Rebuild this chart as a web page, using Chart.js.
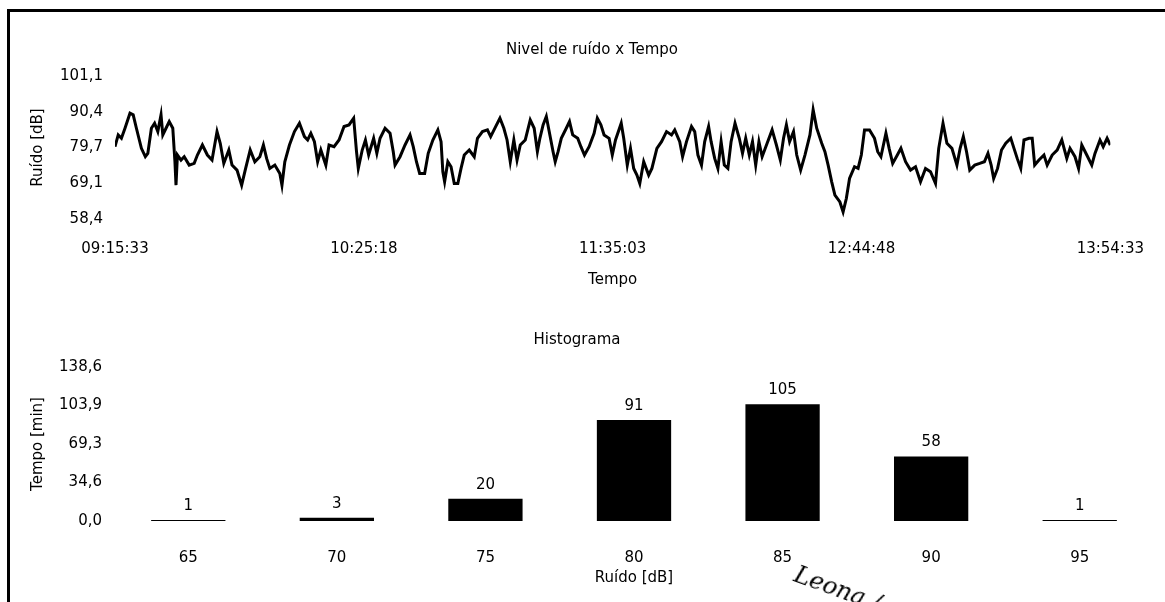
<!DOCTYPE html>
<html lang="pt-BR">
<head>
<meta charset="utf-8">
<title>Nível de ruído x Tempo</title>
<script src="https://cdn.jsdelivr.net/npm/chart.js@4.4.1/dist/chart.umd.min.js"></script>
<style>
  html, body { margin: 0; padding: 0; background: #fff; }
  #pagina { position: relative; width: 1165px; height: 602px; overflow: hidden; }
  #moldura { position: absolute; left: 7px; top: 9px; width: 1170px; height: 600px;
             border-top: 3px solid #000; border-left: 3px solid #000; }
  #graficoRuido { position: absolute; left: 0; top: 0; }
  #graficoHist { position: absolute; left: 0; top: 300px; }
  #assinatura { position: absolute; left: 800px; top: 560px; font: italic 24px "DejaVu Serif", serif;
                color: #000; transform: rotate(20deg); transform-origin: left top; }
</style>
</head>
<body>
<div id="pagina">
  <div id="moldura"></div>
  <canvas id="graficoRuido" width="1165" height="300"></canvas>
  <canvas id="graficoHist" width="1165" height="302"></canvas>
  <div id="assinatura">Leona /</div>
</div>
<script>
// Nível de ruído ao longo do tempo (minutos desde 09:15:33)
const tempoMin = [
  0, 0.9, 1.8, 2.8, 4.2, 5.1, 6.0, 7.4, 8.5, 9.2, 10.2, 11.1, 12.0, 12.9, 13.4, 14.3, 15.2, 16.2, 16.8, 17.1,
  17.5, 18.5, 19.4, 20.8, 22.2, 23.1, 24.5, 25.9, 27.2, 28.6, 29.5, 30.5, 31.9, 32.8, 34.2, 35.5, 36.5, 37.9,
  39.2, 40.6, 41.6, 42.5, 43.4, 44.8, 46.2, 46.8, 47.6, 48.9, 50.3, 51.7, 53.1, 54.0, 54.9, 55.9, 56.8, 57.7,
  59.1, 60.0, 61.4, 62.8, 64.2, 65.6, 66.9, 67.7, 68.2, 69.3, 70.2, 71.1, 72.5, 73.4, 74.3, 75.7, 77.1, 78.0,
  78.5, 79.9, 81.3, 82.7, 83.6, 84.5, 85.4, 86.8, 87.8, 89.1, 90.5, 91.4, 91.9, 92.4, 93.3, 94.2, 95.1, 96.1,
  97.0, 97.9, 99.3, 100.7, 101.6, 103.0, 104.4, 105.3, 106.7, 107.9, 109.0, 109.9, 110.8, 111.8, 112.7, 113.6,
  115.0, 116.4, 117.5,
  118.4, 119.1, 120.0, 120.9, 121.9, 122.8, 123.4, 124.2, 125.1, 126.5, 127.4, 128.3, 129.7, 130.6, 131.6,
  132.9, 134.3, 135.2, 136.2, 137.1, 138.5, 139.4, 140.3, 141.9, 142.6, 143.6, 144.5, 145.4, 146.3, 147.1,
  148.2, 149.6, 150.5, 151.9, 153.2, 154.6, 156.0, 156.9, 158.3,
  159.1, 160.2, 161.6, 162.5, 163.4, 164.4, 165.3, 166.4, 167.1, 168.1, 169.0, 169.9, 170.8, 171.8, 172.7,
  173.8, 175.0, 175.9, 176.8, 177.8, 178.7, 179.6, 180.5, 181.4, 182.8, 184.2, 185.4, 186.5, 187.4, 188.2,
  189.1, 190.2, 191.1, 192.2, 193.4, 194.8, 195.7, 196.7, 198.1,
  199.0, 199.9, 200.9, 201.8, 203.2, 204.1, 205.0, 205.9, 207.3, 208.3, 209.2, 210.1, 211.5, 212.9, 213.8,
  214.7, 216.1, 217.0, 218.0, 219.3, 220.3, 221.6, 223.0, 224.4, 225.8, 227.2, 228.6, 230.0, 230.9, 232.1,
  233.2, 234.6, 236.0, 236.9, 237.8, 238.7,
  239.6, 241.0, 242.4, 243.7, 244.7, 245.6, 246.3, 247.4, 248.5, 249.7, 251.1, 252.0, 252.9, 253.9, 254.8,
  256.2, 257.1, 257.8, 259.0, 260.4, 261.3, 262.7, 264.1, 265.4, 266.8, 267.7, 269.1, 270.1, 271.0, 272.4,
  273.8, 274.7, 276.1, 277.0, 278.1, 279.0
];
const ruidoDb = [
  80.0, 83.5, 82.5, 85.5, 90.0, 89.5, 85.5, 79.5, 77.0, 78.0, 85.5, 87.0, 84.5, 89.5, 83.5, 85.5, 87.5, 85.5, 75.5, 68.5,
  77.5, 76.0, 77.0, 74.5, 75.0, 77.5, 80.5, 77.5, 76.0, 84.5, 81.0, 75.0, 79.0, 74.5, 73.0, 68.5, 73.0, 79.0,
  75.5, 77.0, 80.5, 76.5, 73.5, 74.5, 72.0, 68.5, 75.5, 80.5, 84.5, 87.0, 83.0, 82.0, 84.0, 81.5, 75.5, 79.0,
  74.5, 80.5, 80.0, 82.0, 86.0, 86.5, 88.5, 78.5, 73.5, 79.0, 82.0, 77.5, 82.5, 78.0, 82.5, 85.5, 84.0, 78.5,
  74.5, 77.0, 80.5, 83.5, 80.0, 75.5, 72.0, 72.0, 78.0, 82.0, 85.0, 81.5, 72.5, 69.5, 75.5, 74.0, 69.0, 69.0,
  73.5, 77.5, 79.0, 77.0, 82.5, 84.5, 85.0, 83.0, 86.0, 88.5, 85.5, 82.0, 75.5, 82.0, 76.0, 80.5,
  82.0, 88.0, 85.5,
  78.5, 82.5, 86.5, 89.0, 83.5, 78.5, 75.5, 78.5, 82.5, 85.5, 87.5, 83.5, 82.5, 80.0, 77.5,
  80.0, 84.0, 88.5, 86.5, 83.5, 82.5, 77.5, 82.0, 87.0, 82.5, 74.5, 79.5, 73.5, 71.5, 69.0,
  75.5, 71.5, 73.5, 79.5, 81.5, 84.5, 83.5, 85.0, 81.5,
  77.0, 81.5, 86.0, 84.5, 77.5, 74.5, 81.5, 86.0, 81.5, 76.5, 73.5, 81.5, 74.5, 73.5, 81.5,
  87.0, 82.5, 78.0, 82.5, 77.5, 81.5, 74.5, 81.5, 77.0, 81.0, 85.0, 80.5, 76.0, 82.5, 86.5,
  81.5, 84.5, 77.5, 73.0, 77.5, 83.5, 91.0, 85.5, 81.0,
  78.5, 74.5, 69.5, 65.5, 63.5, 60.5, 64.5, 70.5, 74.0, 73.5, 77.5, 85.0, 85.0, 82.5, 78.5,
  77.0, 84.0, 79.5, 75.0, 77.5, 79.5, 75.5, 73.0, 74.0, 69.5, 73.5, 72.5, 69.0, 79.5, 87.0,
  81.0, 79.5, 74.5, 79.5, 83.0, 78.5,
  73.0, 74.5, 75.0, 75.5, 78.0, 74.5, 70.5, 73.5, 79.0, 81.0, 82.5, 79.5, 76.5, 73.5, 82.0,
  82.5, 82.5, 74.5, 76.0, 77.5, 74.5, 77.5, 79.0, 82.0, 76.5, 79.5, 77.0, 73.5, 80.5, 77.5,
  74.5, 78.0, 82.0, 80.0, 82.5, 80.5
];
const horarios = ['09:15:33', '10:25:18', '11:35:03', '12:44:48', '13:54:33'];
const ticksRuido = ['58,4', '69,1', '79,7', '90,4', '101,1'];
const ruidoMin = 58.4;
const ruidoMax = 101.1;
const duracaoMin = 279;

// Histograma: minutos em cada faixa de ruído
const faixasDb = ['65', '70', '75', '80', '85', '90', '95'];
const minutosFaixa = [1, 3, 20, 91, 105, 58, 1];
const ticksTempo = ['0,0', '34,6', '69,3', '103,9', '138,6'];
const tempoMax = 138.6;

const familia = '"DejaVu Sans", Verdana, sans-serif';
Chart.defaults.font.family = familia;
Chart.defaults.font.size = 15;
Chart.defaults.color = '#000';

const fonte = { family: familia, size: 15 };

// ticks fixos, igualmente espaçados
function ticksFixos(min, max, n) {
  return scale => {
    scale.ticks = [];
    for (let i = 0; i < n; i++) scale.ticks.push({ value: min + i * (max - min) / (n - 1) });
  };
}

new Chart(document.getElementById('graficoRuido'), {
  type: 'line',
  data: {
    datasets: [{
      data: tempoMin.map((t, i) => ({ x: t, y: ruidoDb[i] })),
      borderColor: '#000',
      borderWidth: 3,
      pointRadius: 0,
      tension: 0,
      fill: false
    }]
  },
  options: {
    responsive: false,
    animation: false,
    // padding à esquerda só para deslocar o título; o eixo y compensa na largura
    layout: { padding: { left: 61, right: 42, top: 0, bottom: 0 } },
    plugins: {
      legend: { display: false },
      tooltip: { enabled: false },
      title: {
        display: true,
        text: 'Nivel de ruído x Tempo',
        color: '#000',
        font: { ...fonte, weight: 'normal' },
        padding: { top: 41, bottom: 17 }
      }
    },
    scales: {
      x: {
        type: 'linear',
        min: 0,
        max: duracaoMin,
        grid: { display: false, drawTicks: false },
        border: { display: false },
        afterBuildTicks: ticksFixos(0, duracaoMin, horarios.length),
        afterFit: scale => { scale.height = 81; },
        ticks: { padding: 21, maxRotation: 0, autoSkip: false, font: fonte, callback: (v, i) => horarios[i] },
        title: { display: true, text: 'Tempo', font: fonte, padding: { top: 0, bottom: 11 } }
      },
      y: {
        min: ruidoMin,
        max: ruidoMax,
        grid: { display: false, drawTicks: false },
        border: { display: false },
        afterBuildTicks: ticksFixos(ruidoMin, ruidoMax, ticksRuido.length),
        afterFit: scale => { scale.width = 54; },
        ticks: { padding: 12, font: fonte, callback: (v, i) => ticksRuido[i] },
        title: { display: true, text: 'Ruído [dB]', font: fonte, padding: { top: -32, bottom: 0 } }
      }
    }
  }
});

// Escreve o valor acima de cada barra
const rotulosBarras = {
  id: 'rotulosBarras',
  afterDatasetsDraw(chart) {
    const ctx = chart.ctx;
    const meta = chart.getDatasetMeta(0);
    ctx.save();
    ctx.font = '15px ' + familia;
    ctx.fillStyle = '#000';
    ctx.textAlign = 'center';
    ctx.textBaseline = 'middle';
    meta.data.forEach((bar, i) => {
      ctx.fillText(String(minutosFaixa[i]), bar.x, bar.y - 14);
    });
    ctx.restore();
  }
};

new Chart(document.getElementById('graficoHist'), {
  type: 'bar',
  data: {
    labels: faixasDb,
    datasets: [{
      data: minutosFaixa,
      backgroundColor: '#000',
      borderWidth: 0,
      categoryPercentage: 1,
      barPercentage: 0.5
    }]
  },
  options: {
    responsive: false,
    animation: false,
    layout: { padding: { left: 0, right: 11, top: 0, bottom: 0 } },
    plugins: {
      legend: { display: false },
      tooltip: { enabled: false },
      title: {
        display: true,
        text: 'Histograma',
        color: '#000',
        font: { ...fonte, weight: 'normal' },
        padding: { top: 31, bottom: 18 }
      }
    },
    scales: {
      x: {
        grid: { display: false, drawTicks: false },
        border: { display: false },
        afterFit: scale => { scale.height = 81; },
        ticks: { padding: 28, maxRotation: 0, autoSkip: false, font: fonte },
        title: { display: true, text: 'Ruído [dB]', font: fonte, padding: { top: 0, bottom: 15 } }
      },
      y: {
        min: 0,
        max: tempoMax,
        grid: { display: false, drawTicks: false },
        border: { display: false },
        afterBuildTicks: ticksFixos(0, tempoMax, ticksTempo.length),
        afterFit: scale => { scale.width = 114; },
        ticks: { padding: 12, font: fonte, callback: (v, i) => ticksTempo[i] },
        title: { display: true, text: 'Tempo [min]', font: fonte, padding: { top: 29, bottom: 0 } }
      }
    }
  },
  plugins: [rotulosBarras]
});
</script>
</body>
</html>
